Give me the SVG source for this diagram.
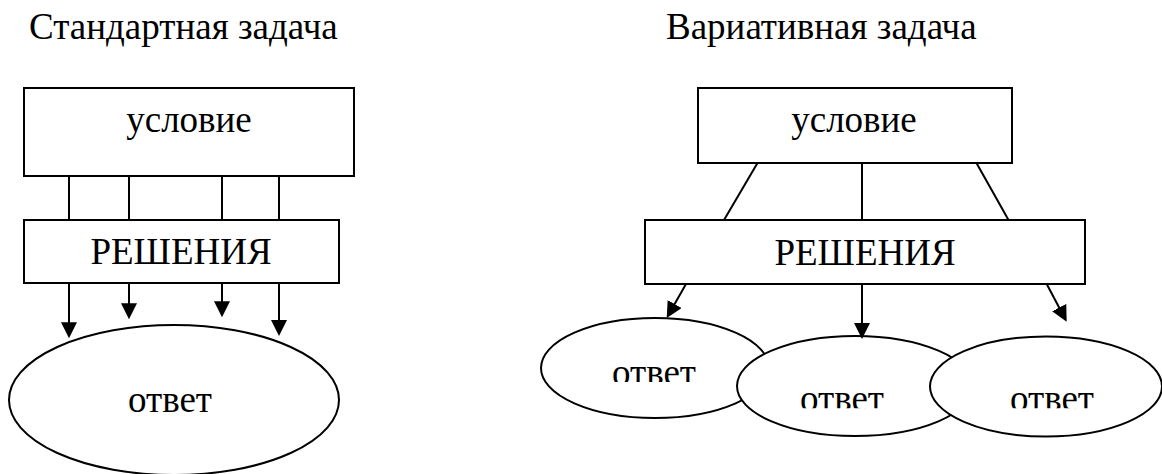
<svg xmlns="http://www.w3.org/2000/svg" width="1162" height="474" viewBox="0 0 1162 474">
<style>
  .t { font-family: "Liberation Serif", "Times New Roman", serif; font-size: 37px; fill: #000; }
  .box { fill: #fff; stroke: #000; stroke-width: 2; }
  .oval { fill: #fff; stroke: #000; stroke-width: 2; }
  .ln { stroke: #000; stroke-width: 2; fill: none; }
  .arr { stroke: #000; stroke-width: 2; fill: none; marker-end: url(#ah); }
</style>
<defs>
  <marker id="ah" viewBox="0 0 16 16" refX="12" refY="8" markerWidth="16" markerHeight="16" markerUnits="userSpaceOnUse" orient="auto">
    <path d="M0,0 L16,8 L0,16 z" fill="#000"/>
  </marker>
  <clipPath id="c1"><rect x="590" y="340" width="130" height="42"/></clipPath>
  <clipPath id="c2"><rect x="780" y="366" width="130" height="42.3"/></clipPath>
  <clipPath id="c3"><rect x="990" y="366" width="130" height="42.3"/></clipPath>
</defs>
<rect width="1162" height="474" fill="#fff"/>

<g id="title-standard"><text class="t" x="29" y="39">Стандартная задача</text></g>
<g id="title-variative"><text class="t" x="666" y="39">Вариативная задача</text></g>

<!-- Standard task -->
<g id="s-condition">
  <rect class="box" x="24" y="88" width="330" height="88"/>
  <text class="t" x="189" y="132" text-anchor="middle">условие</text>
</g>
<g id="s-solutions">
  <rect class="box" x="24" y="220" width="315" height="63"/>
  <text class="t" x="181" y="264" text-anchor="middle">РЕШЕНИЯ</text>
</g>
<g id="s-answer">
  <ellipse class="oval" cx="174" cy="400" rx="165" ry="75"/>
  <text class="t" x="170" y="412" text-anchor="middle">ответ</text>
</g>

<!-- Variative task -->
<g id="v-condition">
  <rect class="box" x="698" y="88" width="314" height="75"/>
  <text class="t" x="854" y="132" text-anchor="middle">условие</text>
</g>
<g id="v-solutions">
  <rect class="box" x="645" y="220" width="440" height="64"/>
  <text class="t" x="865" y="265" text-anchor="middle">РЕШЕНИЯ</text>
</g>
<g id="v-answer-1">
  <ellipse class="oval" cx="655" cy="368" rx="114" ry="50"/>
  <text class="t" x="654" y="385" text-anchor="middle" clip-path="url(#c1)">ответ</text>
</g>
<g id="v-answer-2">
  <ellipse class="oval" cx="855" cy="386" rx="118" ry="50"/>
  <text class="t" x="842" y="410.6" text-anchor="middle" clip-path="url(#c2)">ответ</text>
</g>
<g id="v-answer-3">
  <ellipse class="oval" cx="1046" cy="386.5" rx="116" ry="50"/>
  <text class="t" x="1052" y="410.6" text-anchor="middle" clip-path="url(#c3)">ответ</text>
</g>

<g id="connectors">
  <line class="ln" x1="69" y1="176" x2="69" y2="220"/>
  <line class="ln" x1="129" y1="176" x2="129" y2="220"/>
  <line class="ln" x1="222" y1="176" x2="222" y2="220"/>
  <line class="ln" x1="279" y1="176" x2="279" y2="220"/>
  <line class="arr" x1="69" y1="283" x2="69" y2="334.3"/>
  <line class="arr" x1="129" y1="283" x2="129" y2="315.3"/>
  <line class="arr" x1="222" y1="283" x2="222" y2="313.3"/>
  <line class="arr" x1="279" y1="283" x2="279" y2="332"/>

  <line class="ln" x1="757.5" y1="163" x2="724" y2="220"/>
  <line class="ln" x1="862" y1="163" x2="862" y2="220"/>
  <line class="ln" x1="976.5" y1="163" x2="1008.5" y2="220"/>
  <line class="arr" x1="686" y1="284" x2="668.7" y2="314.5"/>
  <line class="arr" x1="862" y1="284" x2="862" y2="335"/>
  <line class="arr" x1="1046.7" y1="284" x2="1064.8" y2="318.2"/>
</g>
</svg>
